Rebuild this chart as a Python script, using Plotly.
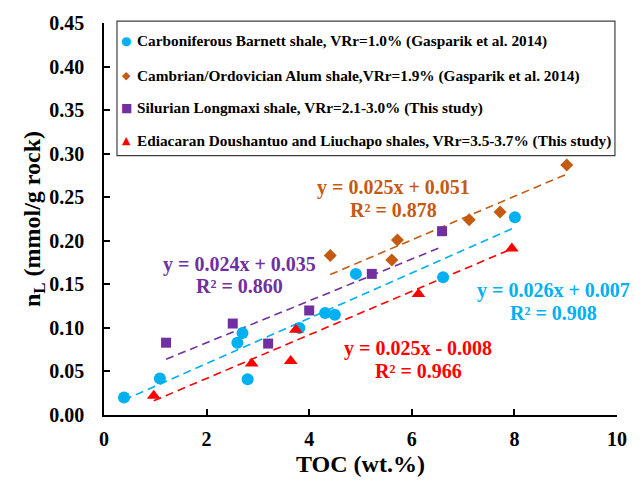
import plotly.graph_objects as go

# TOC (wt.%) and Langmuir capacity nL (mmol/g rock) for each shale set
barnett_toc = [0.39, 1.09, 2.60, 2.70, 2.80, 3.81, 4.31, 4.50, 4.91, 6.61, 8.01]
barnett_nl = [0.020, 0.042, 0.083, 0.094, 0.041, 0.100, 0.117, 0.115, 0.162, 0.158, 0.227]

alum_toc = [4.41, 5.61, 5.72, 7.12, 7.72, 9.02]
alum_nl = [0.183, 0.178, 0.201, 0.224, 0.233, 0.287]

longmaxi_toc = [1.21, 2.51, 3.20, 4.00, 5.22, 6.59]
longmaxi_nl = [0.083, 0.105, 0.082, 0.120, 0.162, 0.211]

ediacaran_toc = [0.97, 2.88, 3.64, 3.74, 6.13, 7.95]
ediacaran_nl = [0.022, 0.059, 0.062, 0.098, 0.139, 0.191]

series_names = [
    "Carboniferous Barnett shale, VRr=1.0% (Gasparik et al. 2014)",
    "Cambrian/Ordovician Alum shale,VRr=1.9% (Gasparik et al. 2014)",
    "Silurian Longmaxi shale, VRr=2.1-3.0% (This study)",
    "Ediacaran Doushantuo and Liuchapo shales, VRr=3.5-3.7% (This study)",
]

# linear regression results: slope, intercept, R²
fit_slope = [0.026, 0.025, 0.024, 0.025]
fit_intercept = [0.007, 0.051, 0.035, -0.008]
fit_r2 = [0.908, 0.878, 0.860, 0.966]

# where each equation label sits (data coordinates)
label_x = [8.77, 5.65, 2.65, 6.13]
label_y = [0.143, 0.261, 0.173, 0.076]
label_y2 = [0.117, 0.235, 0.148, 0.051]

colors = ["#00B0F0", "#C55A11", "#7030A0", "#FF0000"]
symbols = ["circle", "diamond", "square", "triangle-up"]
sizes = [12, 10, 10, 12]
legend_glyphs = ["●", "◆", "■", "▲"]
legend_glyph_sizes = [12, 11, 12, 11]

FONT = "Liberation Serif"

xs = [barnett_toc, alum_toc, longmaxi_toc, ediacaran_toc]
ys = [barnett_nl, alum_nl, longmaxi_nl, ediacaran_nl]

fig = go.Figure()

# dashed regression lines over each data range
for i in range(4):
    x0, x1 = min(xs[i]), max(xs[i])
    fig.add_trace(go.Scatter(
        x=[x0, x1],
        y=[fit_slope[i] * x0 + fit_intercept[i], fit_slope[i] * x1 + fit_intercept[i]],
        mode="lines",
        line=dict(color=colors[i], width=1.6, dash="8px,5px"),
        showlegend=False,
        hoverinfo="skip",
    ))

# measured points
for i in range(4):
    fig.add_trace(go.Scatter(
        x=xs[i], y=ys[i], mode="markers", name=series_names[i],
        marker=dict(symbol=symbols[i], size=sizes[i], color=colors[i], line=dict(width=0)),
        showlegend=False,
    ))

annotations = []
for i in range(4):
    sign = "+" if fit_intercept[i] >= 0 else "-"
    eq = f"y = {fit_slope[i]:.3f}x {sign} {abs(fit_intercept[i]):.3f}"
    r2 = f"R² = {fit_r2[i]:.3f}"
    for txt, yy in ((eq, label_y[i]), (r2, label_y2[i])):
        annotations.append(dict(
            x=label_x[i], y=yy, xref="x", yref="y", text=txt, showarrow=False,
            font=dict(family=FONT, size=20, color=colors[i], weight="bold"),
            xanchor="center", yanchor="middle",
        ))

# legend box entries (paper coordinates)
legend_rows = [0.9545, 0.866, 0.7828, 0.6995]
for i in range(4):
    annotations.append(dict(
        x=0.0435, y=legend_rows[i], xref="paper", yref="paper", text=legend_glyphs[i],
        showarrow=False, xanchor="center", yanchor="middle",
        font=dict(family="DejaVu Sans", size=legend_glyph_sizes[i], color=colors[i]),
    ))
    annotations.append(dict(
        x=0.0604, y=legend_rows[i], xref="paper", yref="paper", text=series_names[i],
        showarrow=False, xanchor="left", yanchor="middle",
        font=dict(family=FONT, size=15.3, color="black", weight="bold"),
    ))

fig.update_layout(
    width=644, height=492,
    margin=dict(l=104, r=27, t=19, b=77),
    paper_bgcolor="white", plot_bgcolor="white",
    showlegend=False,
    annotations=annotations,
    shapes=[dict(type="rect", xref="paper", yref="paper",
                 x0=0.0253, x1=0.996, y0=0.6616, y1=1.005,
                 line=dict(color="#404040", width=1.2), fillcolor="rgba(0,0,0,0)")],
    font=dict(family=FONT, color="black"),
)

fig.update_xaxes(
    range=[0, 10], dtick=2, tick0=0,
    showgrid=False, zeroline=False,
    showline=True, linecolor="black", linewidth=1.5,
    ticks="inside", ticklen=6, tickcolor="black", tickwidth=1.5,
    ticklabelstandoff=5,
    tickfont=dict(family=FONT, size=20, weight="bold"),
    title=dict(text="TOC (wt.%)", font=dict(family=FONT, size=24, weight="bold"), standoff=6),
)
fig.update_yaxes(
    range=[0, 0.45], dtick=0.05, tick0=0, tickformat=".2f",
    showgrid=False, zeroline=False,
    showline=True, linecolor="black", linewidth=1.5,
    ticks="inside", ticklen=6, tickcolor="black", tickwidth=1.5,
    ticklabelstandoff=14,
    tickfont=dict(family=FONT, size=20, weight="bold"),
    title=dict(text="n<sub>L</sub> (mmol/g rock)", font=dict(family=FONT, size=24, weight="bold"), standoff=2),
)

fig.write_html("out.html")
